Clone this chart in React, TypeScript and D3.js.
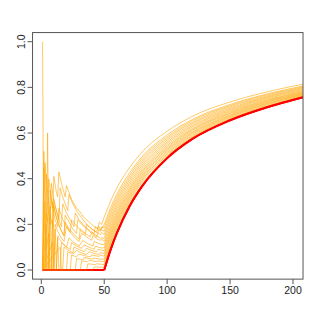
import React, { useRef, useEffect } from 'react';
import * as d3 from 'd3';

// x positions where the rising part of each curve was read
const bandX = [50, 55, 60, 70, 80, 100, 120, 150, 180, 208];

// the red reference curve (0 up to x = 50, then rising)
const redLow: [number, number][] = [[1, 0], [50, 0]];
const redBand = [0, 0.088, 0.161, 0.278, 0.366, 0.49, 0.574, 0.656, 0.714, 0.757];

// rising part of the orange curves, top to bottom
const bandValues = [
  [0.232, 0.301, 0.359, 0.447, 0.516, 0.608, 0.673, 0.736, 0.781, 0.814],
  [0.2, 0.272, 0.332, 0.424, 0.496, 0.592, 0.659, 0.725, 0.772, 0.806],
  [0.185, 0.258, 0.319, 0.413, 0.487, 0.584, 0.653, 0.72, 0.768, 0.802],
  [0.17, 0.245, 0.307, 0.402, 0.477, 0.577, 0.646, 0.715, 0.763, 0.799],
  [0.155, 0.231, 0.294, 0.392, 0.468, 0.569, 0.64, 0.709, 0.759, 0.795],
  [0.14, 0.217, 0.282, 0.381, 0.458, 0.561, 0.633, 0.704, 0.755, 0.791],
  [0.125, 0.204, 0.269, 0.37, 0.449, 0.554, 0.627, 0.699, 0.751, 0.787],
  [0.11, 0.19, 0.257, 0.359, 0.439, 0.546, 0.62, 0.694, 0.746, 0.783],
  [0.097, 0.178, 0.246, 0.35, 0.431, 0.539, 0.615, 0.689, 0.743, 0.78],
  [0.085, 0.167, 0.236, 0.341, 0.424, 0.533, 0.61, 0.685, 0.739, 0.777],
  [0.072, 0.156, 0.225, 0.332, 0.415, 0.527, 0.604, 0.68, 0.736, 0.774],
  [0.06, 0.145, 0.215, 0.323, 0.408, 0.521, 0.599, 0.676, 0.732, 0.771],
  [0.048, 0.134, 0.205, 0.315, 0.4, 0.514, 0.594, 0.672, 0.729, 0.769],
  [0.036, 0.123, 0.195, 0.306, 0.393, 0.508, 0.588, 0.668, 0.725, 0.766],
  [0.024, 0.112, 0.185, 0.297, 0.385, 0.502, 0.583, 0.663, 0.721, 0.763],
  [0.012, 0.1, 0.172, 0.287, 0.374, 0.496, 0.578, 0.66, 0.717, 0.76],
];

// jagged part (x <= 50) of the same orange curves, as [x, y]
const jaggedCurves: [number, number][][] = [
  [[1, 0], [2, 0.52], [3, 0.35], [4, 0.26], [5, 0.21], [6, 0.4], [8, 0.3], [9, 0.27], [10, 0.41], [12, 0.34], [13, 0.32], [14, 0.43], [16, 0.38], [18, 0.34], [19, 0.32], [20, 0.37], [22, 0.34], [24, 0.31], [26, 0.29], [28, 0.27], [30, 0.26], [34, 0.23], [38, 0.21], [42, 0.19], [45, 0.18], [46, 0.21], [48, 0.2], [50, 0.232]],
  [[1, 0], [3, 0.47], [4, 0.35], [5, 0.28], [6, 0.24], [7, 0.2], [8, 0.38], [10, 0.3], [12, 0.26], [14, 0.22], [15, 0.36], [17, 0.32], [19, 0.29], [21, 0.26], [22, 0.33], [25, 0.29], [28, 0.26], [32, 0.23], [36, 0.2], [40, 0.18], [44, 0.165], [45, 0.19], [48, 0.18], [50, 0.2]],
  [[1, 0], [3, 0], [4, 0.42], [5, 0.34], [7, 0.24], [9, 0.19], [10, 0.31], [12, 0.26], [14, 0.22], [16, 0.19], [17, 0.29], [20, 0.25], [23, 0.22], [26, 0.19], [27, 0.25], [30, 0.22], [34, 0.195], [38, 0.175], [42, 0.16], [43, 0.19], [47, 0.17], [48, 0.19], [50, 0.185]],
  [[1, 0], [4, 0], [5, 0.6], [6, 0], [8, 0], [9, 0.3], [11, 0.25], [13, 0.21], [15, 0.18], [18, 0.15], [19, 0.24], [22, 0.21], [25, 0.18], [28, 0.16], [29, 0.22], [32, 0.2], [36, 0.18], [40, 0.16], [44, 0.145], [46, 0.18], [50, 0.17]],
  [[1, 1.0], [2, 0], [6, 0], [7, 0.35], [9, 0.27], [11, 0.22], [13, 0.19], [14, 0.27], [17, 0.22], [20, 0.19], [23, 0.165], [24, 0.22], [27, 0.2], [31, 0.175], [35, 0.155], [36, 0.2], [40, 0.18], [44, 0.165], [47, 0.155], [48, 0.165], [50, 0.155]],
  [[1, 0], [3, 0], [4, 0.25], [5, 0.2], [6, 0], [9, 0], [10, 0.28], [12, 0.23], [14, 0.2], [16, 0.17], [18, 0.15], [19, 0.21], [22, 0.18], [26, 0.155], [30, 0.135], [31, 0.18], [35, 0.16], [39, 0.145], [40, 0.165], [44, 0.15], [47, 0.14], [50, 0.14]],
  [[1, 0], [2, 0.45], [3, 0], [10, 0], [11, 0.2], [13, 0.17], [16, 0.14], [18, 0.125], [20, 0.19], [23, 0.165], [27, 0.14], [30, 0.125], [32, 0.16], [36, 0.145], [40, 0.13], [41, 0.15], [45, 0.135], [47, 0.13], [48, 0.135], [50, 0.125]],
  [[1, 0], [6, 0], [7, 0.28], [8, 0], [12, 0], [13, 0.15], [15, 0.13], [18, 0.11], [20, 0.1], [22, 0.14], [26, 0.12], [30, 0.105], [33, 0.13], [37, 0.115], [41, 0.105], [42, 0.125], [46, 0.115], [50, 0.11]],
  [[1, 0], [8, 0], [9, 0.22], [10, 0], [15, 0], [16, 0.12], [19, 0.105], [23, 0.09], [24, 0.12], [28, 0.105], [32, 0.095], [34, 0.11], [38, 0.1], [42, 0.09], [43, 0.105], [47, 0.097], [50, 0.097]],
  [[1, 0], [3, 0.3], [4, 0], [17, 0], [18, 0.1], [22, 0.085], [25, 0.075], [26, 0.1], [30, 0.09], [34, 0.08], [36, 0.095], [40, 0.085], [44, 0.08], [45, 0.09], [50, 0.085]],
  [[1, 0], [10, 0], [11, 0.18], [12, 0], [20, 0], [21, 0.08], [25, 0.07], [28, 0.085], [32, 0.075], [36, 0.068], [38, 0.08], [42, 0.073], [46, 0.068], [47, 0.076], [50, 0.072]],
  [[1, 0], [4, 0.2], [5, 0], [23, 0], [24, 0.065], [28, 0.058], [30, 0.07], [35, 0.062], [39, 0.057], [40, 0.066], [45, 0.06], [48, 0.064], [50, 0.06]],
  [[1, 0], [12, 0], [13, 0.14], [14, 0], [27, 0], [28, 0.05], [33, 0.045], [34, 0.055], [40, 0.048], [42, 0.052], [47, 0.047], [50, 0.048]],
  [[1, 0], [6, 0.16], [7, 0], [31, 0], [32, 0.04], [37, 0.036], [38, 0.042], [44, 0.037], [45, 0.04], [50, 0.036]],
  [[1, 0], [15, 0.1], [16, 0], [36, 0], [37, 0.027], [43, 0.024], [44, 0.027], [50, 0.024]],
  [[1, 0], [9, 0.12], [10, 0], [41, 0], [42, 0.013], [50, 0.012]],
];

const xTicks = [0, 50, 100, 150, 200];
const yTicks = [0, 0.2, 0.4, 0.6, 0.8, 1.0];

export default function App() {
  const ref = useRef<SVGSVGElement>(null);

  useEffect(() => {
    const svg = d3.select(ref.current);
    svg.selectAll('*').remove();

    const x = d3.scaleLinear().domain([1, 200]).range([42.56, 293.0]);
    const y = d3.scaleLinear().domain([0, 1]).range([270, 41.7]);
    const left = x(1 - 7.96), right = x(200 + 7.96);
    const top = y(1.04), bottom = y(-0.04);

    svg.append('clipPath').attr('id', 'plot-clip')
      .append('rect')
      .attr('x', left).attr('y', top)
      .attr('width', right - left).attr('height', bottom - top);

    const plot = svg.append('g').attr('clip-path', 'url(#plot-clip)');

    const jagLine = d3.line<[number, number]>()
      .x(d => x(d[0])).y(d => y(d[1]));
    const bandLine = d3.line<[number, number]>()
      .x(d => x(d[0])).y(d => y(d[1]))
      .curve(d3.curveMonotoneX);

    const redPts = bandX.map((v, i) => [v, redBand[i]] as [number, number]);

    // red reference first
    plot.append('path')
      .attr('d', (jagLine(redLow) || '') + (bandLine(redPts) || ''))
      .attr('fill', 'none').attr('stroke', 'red').attr('stroke-width', 2);

    // orange family on top
    jaggedCurves.forEach((pts, k) => {
      const band = bandX.map((v, i) => [v, bandValues[k][i]] as [number, number]);
      const g = plot.append('g')
        .attr('fill', 'none').attr('stroke', 'orange')
        .attr('stroke-opacity', 0.6).attr('stroke-width', 1);
      g.append('path').attr('d', jagLine(pts));
      g.append('path').attr('d', bandLine(band));
    });

    // red again over the flat part (gives the orange-red mix) and the rising part
    plot.append('path')
      .attr('d', jagLine(redLow))
      .attr('fill', 'none').attr('stroke', 'red')
      .attr('stroke-opacity', 0.55).attr('stroke-width', 2);
    plot.append('path')
      .attr('d', bandLine(redPts))
      .attr('fill', 'none').attr('stroke', 'red').attr('stroke-width', 2);

    // box
    svg.append('rect')
      .attr('x', left).attr('y', top)
      .attr('width', right - left).attr('height', bottom - top)
      .attr('fill', 'none').attr('stroke', '#555').attr('stroke-width', 1);

    const font = '"Liberation Sans", Arial, Helvetica, sans-serif';

    // x axis
    const xa = svg.append('g');
    xTicks.forEach(t => {
      xa.append('line')
        .attr('x1', x(t)).attr('x2', x(t))
        .attr('y1', bottom).attr('y2', bottom + 5)
        .attr('stroke', '#555');
      xa.append('text')
        .attr('x', x(t)).attr('y', bottom + 15)
        .attr('text-anchor', 'middle')
        .attr('font-family', font).attr('font-size', 10.5)
        .attr('fill', '#222')
        .text(String(t));
    });

    // y axis, labels rotated as in R
    const ya = svg.append('g');
    yTicks.forEach(t => {
      ya.append('line')
        .attr('x1', left - 5).attr('x2', left)
        .attr('y1', y(t)).attr('y2', y(t))
        .attr('stroke', '#555');
      ya.append('text')
        .attr('transform', `translate(${left - 8},${y(t)}) rotate(-90)`)
        .attr('text-anchor', 'middle')
        .attr('font-family', font).attr('font-size', 10.5)
        .attr('fill', '#222')
        .text(t.toFixed(1));
    });
  });

  return (
    <svg
      ref={ref}
      width={320}
      height={320}
      style={{ position: 'fixed', left: 0, top: 0, background: '#fff' }}
    />
  );
}
